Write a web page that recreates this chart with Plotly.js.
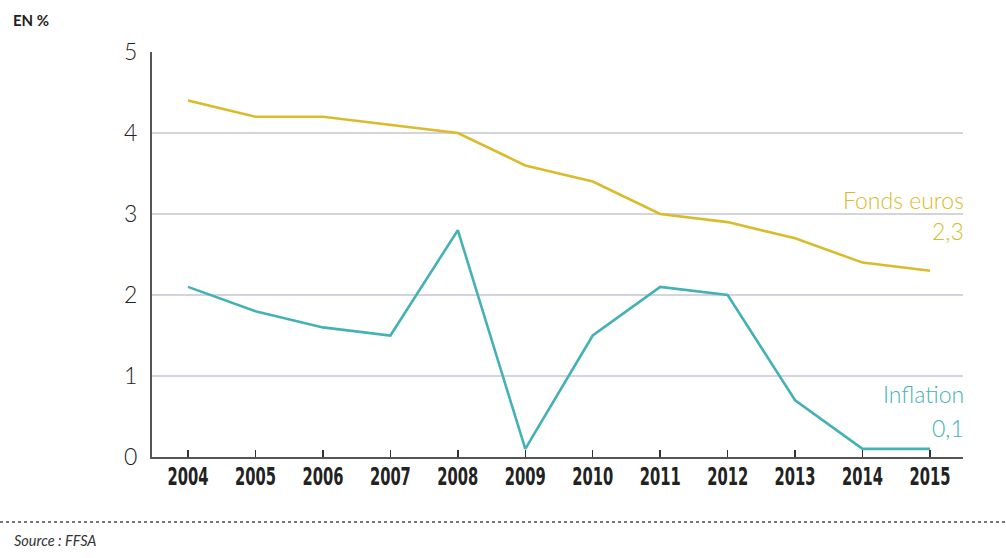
<!DOCTYPE html>
<html>
<head>
<meta charset="utf-8">
<script src="https://cdn.plot.ly/plotly-3.0.1.min.js"></script>
<style>
html,body{margin:0;padding:0;background:#fff;}
#chart{width:1006px;height:558px;}
</style>
</head>
<body>
<div id="chart"></div>
<script>
var years = [2004, 2005, 2006, 2007, 2008, 2009, 2010, 2011, 2012, 2013, 2014, 2015];
var fondsEuros = [4.4, 4.2, 4.2, 4.1, 4.0, 3.6, 3.4, 3.0, 2.9, 2.7, 2.4, 2.3];
var inflation = [2.1, 1.8, 1.6, 1.5, 2.8, 0.1, 1.5, 2.1, 2.0, 0.7, 0.1, 0.1];
var yTicks = [0, 1, 2, 3, 4, 5];
var gold = '#d9bb2b';
var teal = '#44b2b4';

var traces = [
  {x: years, y: fondsEuros, type: 'scatter', mode: 'lines', name: 'Fonds euros',
   line: {color: gold, width: 2.6}, hoverinfo: 'x+y'},
  {x: years, y: inflation, type: 'scatter', mode: 'lines', name: 'Inflation',
   line: {color: teal, width: 2.6}, hoverinfo: 'x+y'}
];

var layout = {
  width: 1006, height: 558,
  margin: {l: 152, r: 43, t: 52, b: 101},
  paper_bgcolor: '#fff', plot_bgcolor: '#fff',
  showlegend: false,
  xaxis: {
    range: [2003.466, 2015.489], tickmode: 'array', tickvals: years, ticktext: years.map(String),
    tickangle: 0,
    showgrid: false, zeroline: false, showline: true, linecolor: '#555', linewidth: 2,
    ticks: 'inside', ticklen: 7, tickwidth: 1.5, tickcolor: '#333',
    ticklabelstandoff: -4,
    tickfont: {family: 'DejaVu Sans, sans-serif', size: 25, color: '#222', weight: 'bold'}
  },
  yaxis: {
    range: [0, 5], tickmode: 'array', tickvals: yTicks, ticktext: yTicks.map(String),
    showgrid: true, gridcolor: '#d4d4dc', gridwidth: 1.5, zeroline: false,
    showline: true, linecolor: '#555', linewidth: 2, ticks: '',
    ticklabelstandoff: 8,
    tickfont: {family: 'Lato, Noto Sans, sans-serif', size: 23, color: '#222', weight: 300}
  },
  annotations: [
    {xref: 'paper', yref: 'paper', x: 1, xshift: 3, y: (457 - 200) / 405, xanchor: 'right', yanchor: 'middle',
     text: 'Fonds euros', showarrow: false, font: {family: 'Lato, sans-serif', size: 23, color: gold, weight: 300}},
    {xref: 'paper', yref: 'paper', x: 1, xshift: 3, y: (457 - 231) / 405, xanchor: 'right', yanchor: 'middle',
     text: '2,3', showarrow: false, font: {family: 'Lato, sans-serif', size: 23, color: gold, weight: 300}},
    {xref: 'paper', yref: 'paper', x: 1, xshift: 3, y: (457 - 394) / 405, xanchor: 'right', yanchor: 'middle',
     text: 'Inflation', showarrow: false, font: {family: 'Lato, sans-serif', size: 23, color: teal, weight: 300}},
    {xref: 'paper', yref: 'paper', x: 1, xshift: 3, y: (457 - 428) / 405, xanchor: 'right', yanchor: 'middle',
     text: '0,1', showarrow: false, font: {family: 'Lato, sans-serif', size: 23, color: teal, weight: 300}},
    {xref: 'paper', yref: 'paper', x: -141 / 811, y: (457 - 20) / 405, xanchor: 'left', yanchor: 'middle',
     text: 'EN %', showarrow: false, font: {family: 'Lato, sans-serif', size: 15, color: '#222', weight: 'bold'}},
    {xref: 'paper', yref: 'paper', x: -140 / 811, y: (457 - 540) / 405, xanchor: 'left', yanchor: 'middle',
     text: '<i>Source : FFSA</i>', showarrow: false, font: {family: 'Lato, sans-serif', size: 14.5, color: '#333'}}
  ],
  shapes: [
    {type: 'line', xref: 'paper', yref: 'paper', x0: -152 / 811, x1: (1006 - 152) / 811,
     y0: -(522 - 457) / 405, y1: -(522 - 457) / 405, line: {color: '#777', width: 2, dash: 'dot'}}
  ]
};

Plotly.newPlot('chart', traces, layout, {displayModeBar: false, staticPlot: true}).then(function (gd) {
  // condense the year labels like the reference's narrow bold face
  var texts = gd.querySelectorAll('.xtick text');
  texts.forEach(function (t) {
    t.setAttribute('textLength', '41');
    t.setAttribute('lengthAdjust', 'spacingAndGlyphs');
  });
});
</script>
</body>
</html>
